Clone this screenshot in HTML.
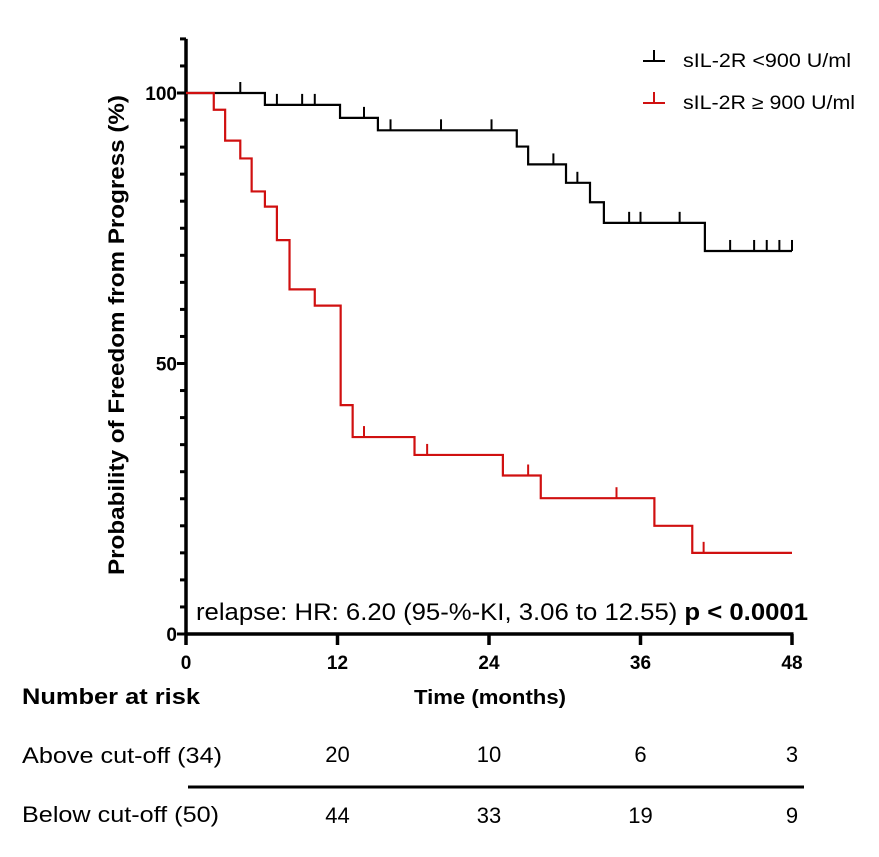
<!DOCTYPE html>
<html><head><meta charset="utf-8"><style>
html,body{margin:0;padding:0;background:#fff;}
svg text{font-family:"Liberation Sans",Arial,sans-serif;}
</style></head><body>
<svg id="chart" width="879" height="852" viewBox="0 0 879 852" xmlns="http://www.w3.org/2000/svg">
<g id="plot"></g>
<text x="124" y="335" transform="rotate(-90 124 335)" text-anchor="middle" font-size="22" font-weight="bold" textLength="480" lengthAdjust="spacingAndGlyphs">Probability of Freedom from Progress (%)</text>
<text x="490" y="704" text-anchor="middle" font-size="20" font-weight="bold" textLength="152" lengthAdjust="spacingAndGlyphs">Time (months)</text>
<text x="196" y="620" font-size="24" textLength="612" lengthAdjust="spacingAndGlyphs">relapse: HR: 6.20 (95-%-KI, 3.06 to 12.55) <tspan font-weight="bold">p &lt; 0.0001</tspan></text>
<g>
<g>
<path d="M643 61 H665 M654 61 V50" stroke="#000" stroke-width="2" fill="none"/>
<text x="683" y="67" font-size="19" textLength="168" lengthAdjust="spacingAndGlyphs">sIL-2R &lt;900 U/ml</text></g>
<g>
<path d="M643 103 H665 M654 103 V92" stroke="#d01010" stroke-width="2" fill="none"/>
<text x="683" y="109" font-size="19" textLength="172" lengthAdjust="spacingAndGlyphs">sIL-2R ≥ 900 U/ml</text></g>
</g>
<g>
<text x="22" y="704" font-size="22" font-weight="bold" textLength="178" lengthAdjust="spacingAndGlyphs">Number at risk</text>
<text x="22" y="763" font-size="22" textLength="200" lengthAdjust="spacingAndGlyphs">Above cut-off (34)</text>
<text x="22" y="822" font-size="22" textLength="197" lengthAdjust="spacingAndGlyphs">Below cut-off (50)</text>
<line x1="188" y1="787" x2="804" y2="787" stroke="#000" stroke-width="3"/>
<g id="riskNums"></g>
</g>
</svg>
<script>
const yTicks = [0, 50, 100];
const xTicks = [0, 12, 24, 36, 48];
const lowTimes = [0, 6.25, 12.2, 15.2, 26.2, 27.1, 30.1, 32.0, 33.1, 41.1];
const lowValues = [100, 97.8, 95.4, 93.1, 90.1, 86.8, 83.4, 79.8, 76.0, 70.8];
const lowCensor = [4.3, 7.2, 9.2, 10.2, 14.1, 16.2, 20.2, 24.2, 29.1, 31.0, 35.1, 36.0, 39.1, 43.1, 45, 46, 47, 48];
const highTimes = [0, 2.2, 3.1, 4.3, 5.2, 6.25, 7.2, 8.2, 10.2, 12.25, 13.2, 18.1, 25.1, 28.1, 37.1, 40.1];
const highValues = [100, 96.9, 91.2, 87.9, 81.8, 79.0, 72.8, 63.7, 60.7, 42.3, 36.4, 33.1, 29.3, 25.1, 20.0, 15.0];
const highCensor = [14.1, 19.1, 27.1, 34.1, 41.0];
const riskAbove = [20, 10, 6, 3];
const riskBelow = [44, 33, 19, 9];
const riskTimes = [12, 24, 36, 48];

const NS = "http://www.w3.org/2000/svg";
const X0 = 186, X1 = 792, Y0 = 634, Y100 = 93, TMAX = 48;
const xs = t => X0 + (t / TMAX) * (X1 - X0);
const ys = p => Y0 - (p / 100) * (Y0 - Y100);
const plot = document.getElementById('plot');
function mk(tag, attrs, parent) {
  const e = document.createElementNS(NS, tag);
  for (const k in attrs) e.setAttribute(k, attrs[k]);
  (parent || plot).appendChild(e);
  return e;
}
const ya = mk('line', {x1: X0, y1: ys(110), x2: X0, y2: Y0 + 1.5, stroke: '#000', 'stroke-width': 3.5});


const xa = mk('line', {x1: X0 - 1.5, y1: Y0, x2: X1 + 1.5, y2: Y0, stroke: '#000', 'stroke-width': 3.5});


for (let p = 0; p <= 110; p += 5) {
  const major = yTicks.includes(p);
  const tk = mk('line', {x1: X0 - (major ? 9 : 6), y1: ys(p), x2: X0, y2: ys(p), stroke: '#000', 'stroke-width': 3});
  
  
}
yTicks.forEach(v => {
  const t = mk('text', {x: X0 - 9, y: ys(v) + 7, 'text-anchor': 'end', 'font-size': 19, 'font-weight': 'bold'});
  t.textContent = v;
  
  
});
xTicks.forEach(v => {
  const tk = mk('line', {x1: xs(v), y1: Y0, x2: xs(v), y2: Y0 + 11, stroke: '#000', 'stroke-width': 3.5});
  
  
  const t = mk('text', {x: xs(v), y: Y0 + 35, 'text-anchor': 'middle', 'font-size': 19, 'font-weight': 'bold'});
  t.textContent = v;
  
  
});
function stepPath(times, vals) {
  let d = 'M' + xs(times[0]) + ' ' + ys(vals[0]);
  for (let i = 1; i < times.length; i++) d += ' H' + xs(times[i]) + ' V' + ys(vals[i]);
  d += ' H' + xs(TMAX);
  return d;
}
function valAt(times, vals, t) {
  let v = vals[0];
  for (let i = 0; i < times.length; i++) if (times[i] <= t) v = vals[i];
  return v;
}
function series(times, vals, censor, color, name) {
  const g = mk('g', {});
  
  
  const p = mk('path', {d: stepPath(times, vals), stroke: color, 'stroke-width': 2.2, fill: 'none'}, g);
  
  
  censor.forEach(t => {
    const y = ys(valAt(times, vals, t));
    const c = mk('line', {x1: xs(t), y1: y, x2: xs(t), y2: y - 11, stroke: color, 'stroke-width': 2}, g);
    
    
  });
}
series(lowTimes, lowValues, lowCensor, '#000', 'series-low');
series(highTimes, highValues, highCensor, '#d01010', 'series-high');
const rn = document.getElementById('riskNums');
riskTimes.forEach((t, i) => {
  const a = mk('text', {x: xs(t), y: 762, 'text-anchor': 'middle', 'font-size': 22}, rn);
  a.textContent = riskAbove[i];
  
  
  const b = mk('text', {x: xs(t), y: 823, 'text-anchor': 'middle', 'font-size': 22}, rn);
  b.textContent = riskBelow[i];
  
  
});
</script>
</body></html>
